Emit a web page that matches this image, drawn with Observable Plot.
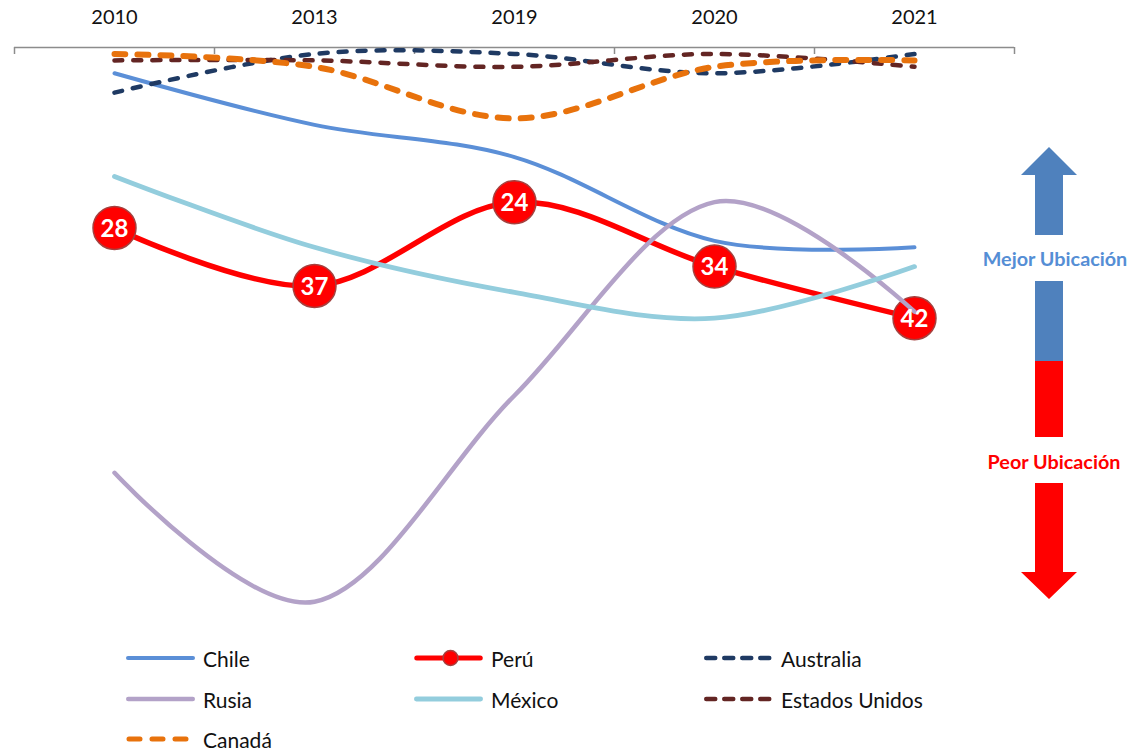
<!DOCTYPE html>
<html><head><meta charset="utf-8">
<script src="https://cdn.jsdelivr.net/npm/d3@7"></script>
<script src="https://cdn.jsdelivr.net/npm/@observablehq/plot@0.6"></script>
<style>
body{margin:0;background:#fff;font-family:Lato,"Open Sans",sans-serif;}
#wrap{position:relative;width:1146px;height:750px;overflow:hidden;background:#fff}
#chart{position:absolute;left:0;top:0}
#arrows{position:absolute;left:0;top:0}
.item{position:absolute;display:flex;align-items:center;font-size:21px;color:#111;height:30px;white-space:nowrap}
.item svg{margin-right:7px}
</style></head><body>
<div id="wrap"><div id="chart"></div><div id="legend"></div>
<svg id="arrows" width="1146" height="750" style="pointer-events:none"></svg>
</div>
<script>
// ---- data ----
const years = ["2010", "2013", "2019", "2020", "2021"];
const chile = [4, 12, 17, 30, 31];
const peru = [28, 37, 24, 34, 42];
const australia = [7, 1, 1, 4, 1];
const rusia = [66, 86, 54, 24, 41];
const mexico = [20, 31, 38, 42, 34];
const eeuu = [2, 2, 3, 1, 3];
const canada = [1, 3, 11, 3, 2];
const seriesNames = ["Chile", "Perú", "Australia", "Rusia", "México", "Estados Unidos", "Canadá"];
const seriesValues = [chile, peru, australia, rusia, mexico, eeuu, canada];

// ---- styles ----
const styles = {
  "Chile": {stroke: "#5b8fd7", width: 4, dash: null},
  "Perú": {stroke: "#ff0000", width: 5.5, dash: null},
  "Australia": {stroke: "#1f3a63", width: 4.5, dash: "8,11"},
  "Rusia": {stroke: "#b3a2c8", width: 4.5, dash: null},
  "México": {stroke: "#93cddd", width: 4.8, dash: null},
  "Estados Unidos": {stroke: "#632523", width: 4.5, dash: "8,11"},
  "Canadá": {stroke: "#e8720c", width: 6, dash: "11,12"}
};

const W = 1146, H = 628, mTop = 47, mBottom = 1, mLeft = 14, mRight = 132;
const yMax = 90;
const step = (W - mLeft - mRight) / years.length;
const tickLen = 7 * yMax / (H - mTop - mBottom);

const rowsOf = (name) => years.map((yr, i) => ({serie: name, year: yr, rank: seriesValues[seriesNames.indexOf(name)][i]}));

const marks = [
  Plot.ruleY([0], {stroke: "#8c8c8c", strokeWidth: 1.5}),
  Plot.ruleX(years, {x: d => d, y1: 0, y2: tickLen, dx: -step / 2, stroke: "#8c8c8c", strokeWidth: 1.5}),
  Plot.ruleX([years[years.length - 1]], {x: d => d, y1: 0, y2: tickLen, dx: step / 2, stroke: "#8c8c8c", strokeWidth: 1.5})
];
for (const name of seriesNames) {
  const s = styles[name];
  marks.push(Plot.line(rowsOf(name), {
    x: "year", y: "rank", stroke: s.stroke, strokeWidth: s.width,
    strokeDasharray: s.dash, strokeLinecap: "round", strokeLinejoin: "round", curve: "cardinal"
  }));
  if (name === "Perú") {
    marks.push(Plot.dot(rowsOf(name), {x: "year", y: "rank", r: 21.5, fill: "#ff0000", stroke: "#a5413f", strokeWidth: 1.5}));
  }
}
marks.push(Plot.text(rowsOf("Perú"), {x: "year", y: "rank", text: d => String(d.rank), fill: "white",
  fontWeight: "bold", fontSize: 24, fontFamily: "Lato", dy: 1}));

const chart = Plot.plot({
  width: W, height: H,
  marginTop: mTop, marginBottom: mBottom, marginLeft: mLeft, marginRight: mRight,
  style: {fontFamily: "Lato", fontSize: "20px", color: "#111", background: "white", overflow: "visible"},
  x: {type: "point", domain: years, padding: 0.5, axis: "top", tickSize: 0, tickPadding: 24, label: null},
  y: {domain: [0, yMax], reverse: true, axis: null},
  marks
});
document.getElementById("chart").appendChild(chart);

// ---- legend ----
const legend = document.getElementById("legend");
const colX = [125, 413, 703];
const rowY = [658, 699, 739];
seriesNames.forEach((name, i) => {
  const s = styles[name];
  const div = document.createElement("div");
  div.className = "item";
  div.style.left = colX[i % 3] + "px";
  div.style.top = (rowY[Math.floor(i / 3)] - 15) + "px";
  const sw = 71;
  let dash = "";
  if (name === "Canadá") dash = `stroke-dasharray="11,12"`;
  else if (s.dash) dash = `stroke-dasharray="9,9"`;
  let svg = `<svg width="${sw}" height="30"><line x1="${s.width/2+1}" x2="${sw - s.width/2 - 1}" y1="15" y2="15" stroke="${s.stroke}" stroke-width="${Math.min(s.width,5)}" stroke-linecap="round" ${dash}/>`;
  if (name === "Perú") svg += `<circle cx="${sw/2+2}" cy="15" r="7.5" fill="#ff0000" stroke="#a5413f" stroke-width="1.5"/>`;
  svg += `</svg>`;
  div.innerHTML = svg + `<span>${name}</span>`;
  legend.appendChild(div);
});

// ---- direction arrows (annotation) ----
const ar = document.getElementById("arrows");
ar.innerHTML = `
<polygon points="1049,147 1077,175 1063,175 1063,361 1035,361 1035,175 1021,175" fill="#4f81bd"/>
<polygon points="1035,361 1063,361 1063,572 1077,572 1049,599 1021,572 1035,572" fill="#ff0000"/>
<rect x="975" y="235" width="165" height="46" fill="white"/>
<rect x="975" y="437" width="165" height="46" fill="white"/>
<text x="1055" y="258" text-anchor="middle" dominant-baseline="central" font-family="Lato" font-weight="bold" font-size="19.8" fill="#558ed5">Mejor Ubicación</text>
<text x="1054" y="461" text-anchor="middle" dominant-baseline="central" font-family="Lato" font-weight="bold" font-size="19.8" fill="#ff0000">Peor Ubicación</text>`;
</script>
</body></html>
